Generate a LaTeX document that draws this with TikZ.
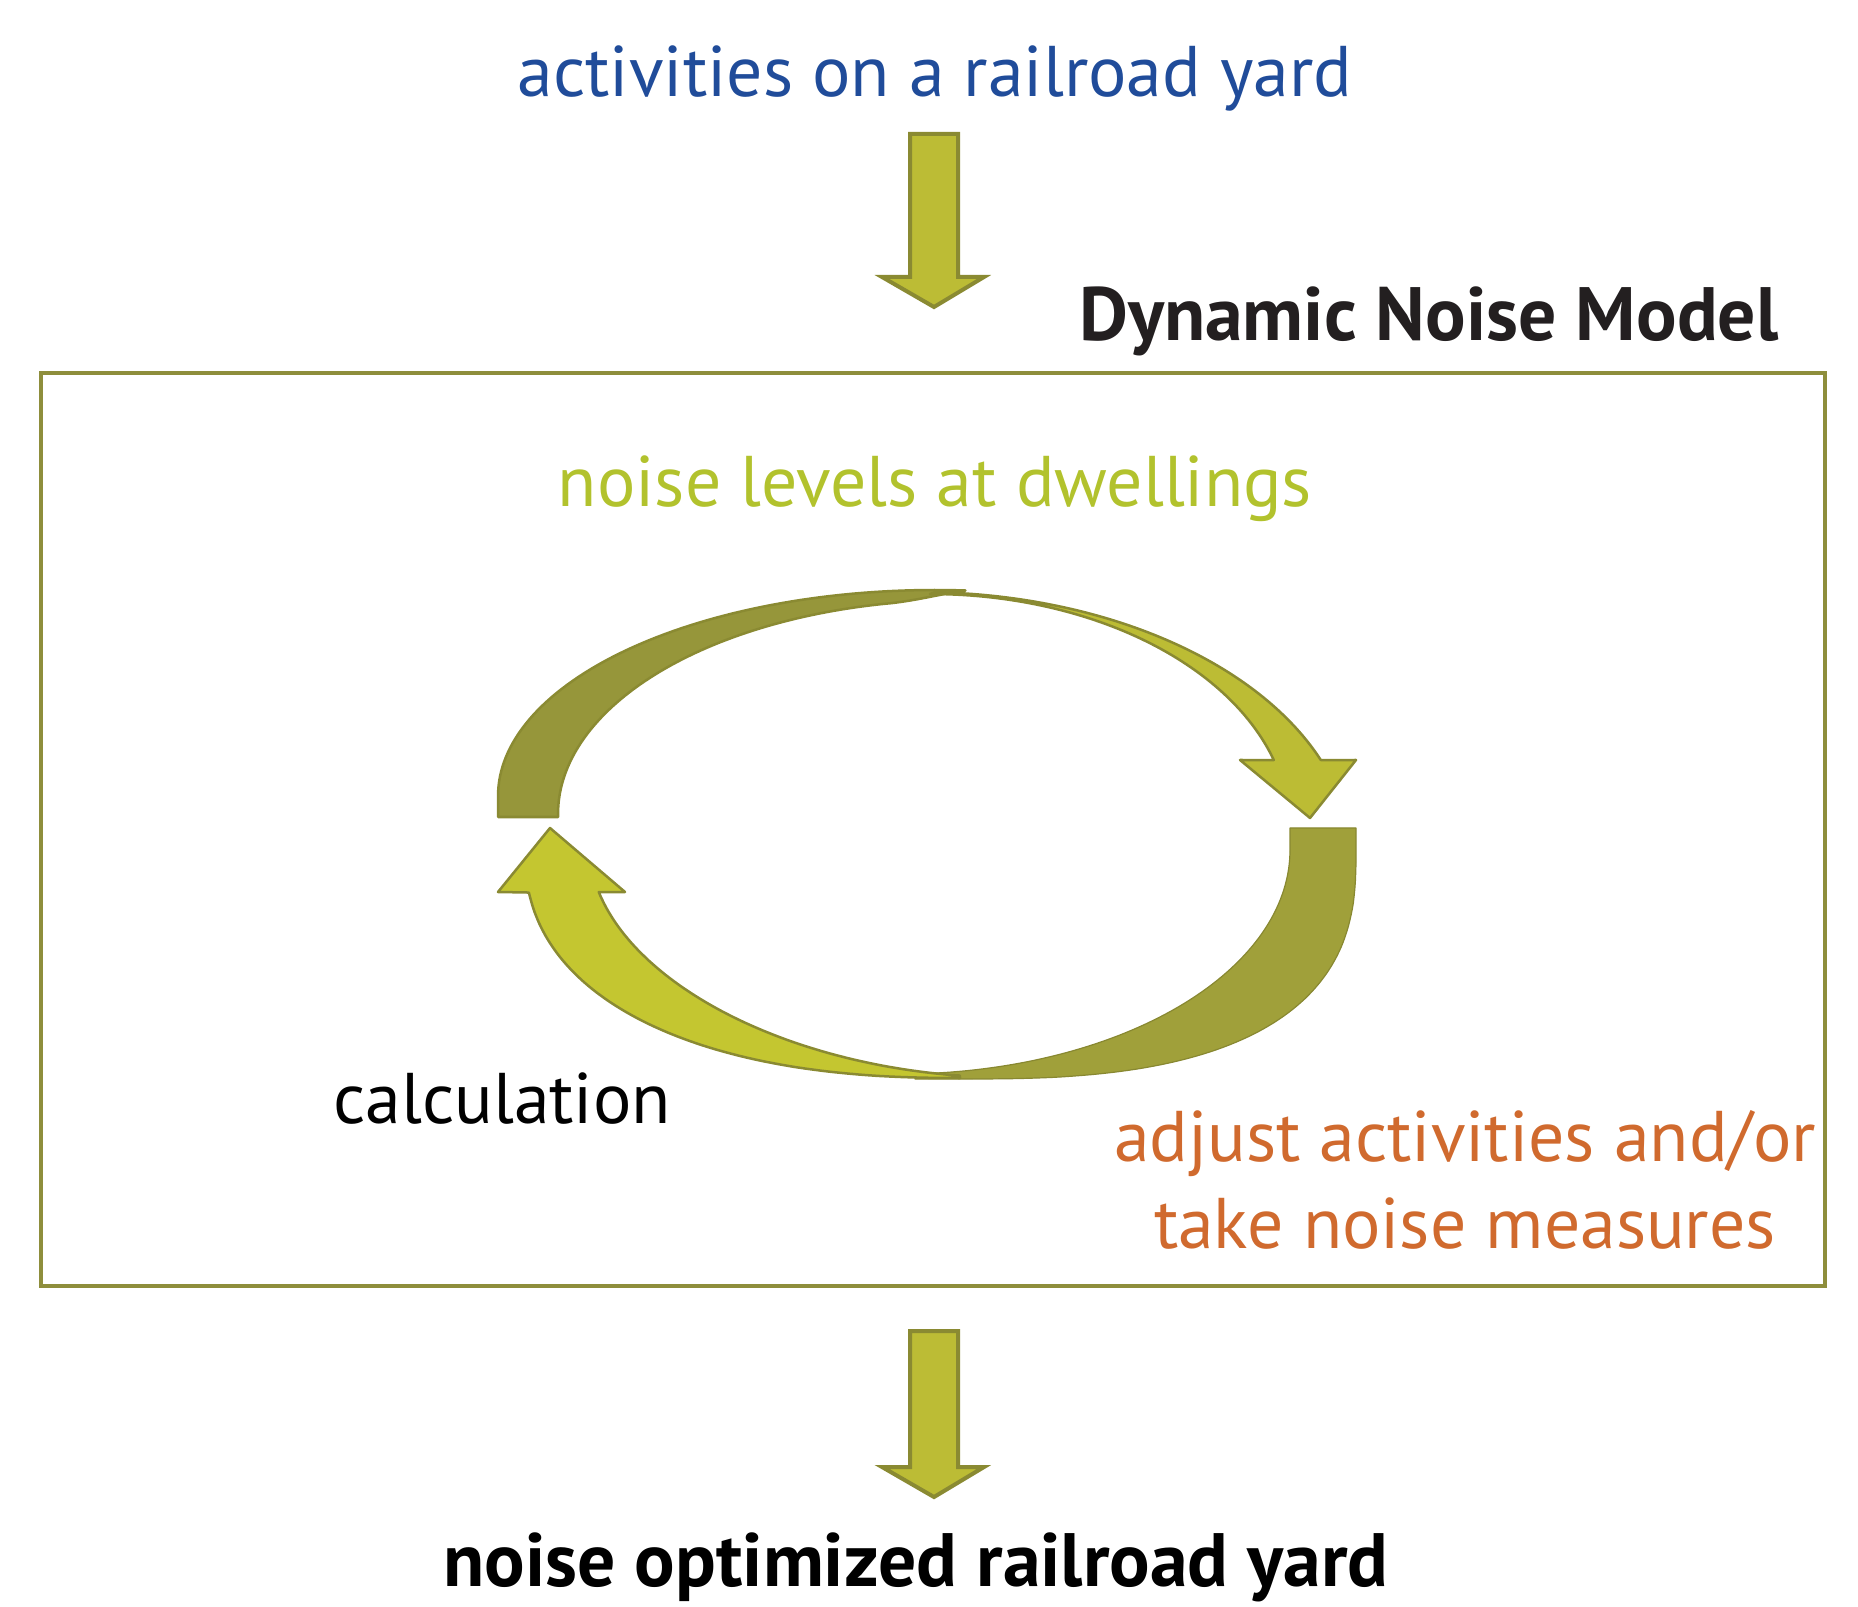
\documentclass[tikz,border=0pt]{standalone}
\usepackage{fontspec}
\setmainfont{PT Sans}
\definecolor{bluetxt}{RGB}{32,76,154}
\definecolor{greentxt}{RGB}{178,194,45}
\definecolor{orangetxt}{RGB}{208,106,46}
\definecolor{darktxt}{RGB}{35,31,32}
\definecolor{olivebox}{RGB}{142,142,60}
\definecolor{oliveline}{RGB}{138,138,50}
\definecolor{darkupper}{RGB}{150,150,58}
\definecolor{darklower}{RGB}{160,160,58}
\definecolor{lightupper}{RGB}{188,188,52}
\definecolor{lightlower}{RGB}{196,198,48}
\definecolor{arrowfill}{RGB}{188,188,53}
\begin{document}
\begin{tikzpicture}[x=0.01cm,y=-0.01cm,
  lbl/.style={inner sep=0pt,anchor=base,font=\fontsize{20.4}{24}\selectfont},
  boldlbl/.style={lbl,font=\fontsize{21.5}{26}\selectfont\bfseries},
  blockarrow/.style={draw=oliveline,line width=0.04cm,fill=arrowfill,line join=miter},
  band/.style={draw=oliveline,line width=0.025cm,line join=round},
  softband/.style={draw=darklower!85!black,line width=0.012cm,line join=round}]
\useasboundingbox (0,0) rectangle (1858,1607);
% texts
\node[lbl,text=bluetxt] (act) at (935,97) {activities on a railroad yard};
\node[boldlbl,text=darktxt] (dnm) at (1429,341) {Dynamic Noise Model};
\node[lbl,text=greentxt] (lev) at (935,507) {noise levels at dwellings};
\node[lbl,text=black] (calc) at (502,1123) {calculation};
\node[lbl,text=orangetxt] (adj1) at (1465,1161) {adjust activities and/or};
\node[lbl,text=orangetxt] (adj2) at (1465,1248) {take noise measures};
\node[boldlbl,text=black] (opt) at (916,1586) {noise optimized railroad yard};
% model box
\draw[olivebox,line width=0.04cm] (41,373) rectangle (1825,1286);
% straight block arrows
\draw[blockarrow] (910,134) -- (958,134) -- (958,277) -- (984,277) -- (934,307) -- (882,277) -- (910,277) -- cycle;
\draw[blockarrow] (910,1331) -- (958,1331) -- (958,1467) -- (984,1467) -- (934,1497) -- (882,1467) -- (910,1467) -- cycle;
% upper curved arrow: dark tail
\draw[band,fill=darkupper] (498,817)
  -- plot[domain=0:94,samples=70] ({935-437*cos(\x)},{796-206*sin(\x)})
  .. controls (945,593) and (920,600) .. (890.2,603.3)
  -- plot[domain=80:0,samples=70] ({960-402*cos(\x)},{814-214*sin(\x)})
  -- (558,817) -- cycle;
% upper curved arrow: light head part
\draw[band,fill=lightupper]
  plot[domain=88:21.9,samples=70] ({920+432*cos(\x)},{860-268*sin(\x)})
  -- (1356,760) -- (1310,818) -- (1240,760)
  -- plot[domain=17.25:90,samples=70] ({930+360*cos(\x)},{830-236*sin(\x)}) -- cycle;
% lower curved arrow: dark tail
\draw[softband,fill=darklower] (1356,828)
  -- plot[domain=0:90,samples=70] ({960+396*pow(abs(cos(\x)),0.7407)},{850+229*pow(abs(sin(\x)),0.7407)})
  -- (915,1079)
  -- plot[domain=87.8:0,samples=70] ({900+390*cos(\x)},{850+224*sin(\x)})
  -- (1290,828) -- cycle;
% lower curved arrow: light head part
\draw[band,fill=lightlower]
  plot[domain=90:8.22,samples=70] ({960-435*pow(abs(cos(\x)),0.8696)},{850+228*pow(abs(sin(\x)),0.8696)})
  -- (498,892) -- (550,828) -- (625,892)
  -- plot[domain=11.6:83.7,samples=70] ({1000-410*pow(abs(cos(\x)),1.0526)},{850+227*pow(abs(sin(\x)),1.0526)}) -- cycle;
\end{tikzpicture}
\end{document}
